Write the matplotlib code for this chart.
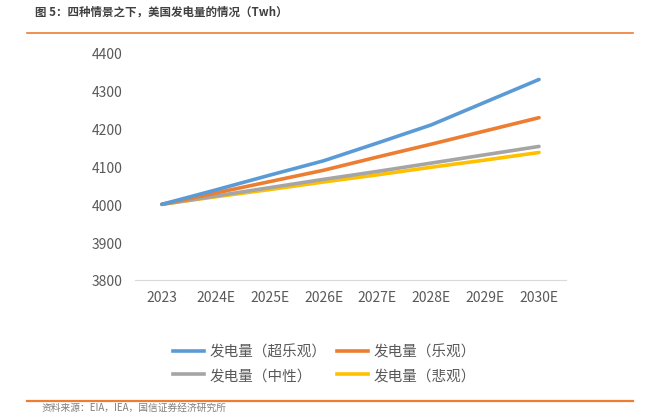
import matplotlib as mpl
import matplotlib.pyplot as plt
from matplotlib.lines import Line2D

mpl.rcParams['font.family'] = ['Noto Sans CJK SC', 'DejaVu Sans']

years = ['2023', '2024E', '2025E', '2026E', '2027E', '2028E', '2029E', '2030E']
super_optimistic = [4000, 4038, 4077, 4115, 4162, 4210, 4270, 4330]
optimistic = [4000, 4030, 4060, 4090, 4125, 4159, 4194, 4229]
neutral = [4000, 4022, 4044, 4066, 4087, 4109, 4131, 4153]
pessimistic = [4000, 4020, 4039, 4059, 4078, 4098, 4117, 4137]
names = ['发电量（超乐观）', '发电量（乐观）', '发电量（中性）', '发电量（悲观）']
colors = ['#5B9BD5', '#ED7D31', '#A5A5A5', '#FFC000']

fig = plt.figure(figsize=(6.53, 4.14), dpi=100)
ax = fig.add_axes([0.2067, 0.3213, 0.66, 0.5483])

x = range(len(years))
series = [super_optimistic, optimistic, neutral, pessimistic]
# draw bottom series first so blue ends on top
for vals, c in reversed(list(zip(series, colors))):
    ax.plot(x, vals, color=c, lw=2.6, solid_capstyle='round')

ax.set_xlim(-0.5, len(years) - 0.5)
ax.set_ylim(3800, 4400)
ax.set_yticks(range(3800, 4401, 100))
ax.set_xticks(list(x))
ax.set_xticklabels(years)
for s in ['top', 'right', 'left']:
    ax.spines[s].set_visible(False)
ax.spines['bottom'].set_color('#D9D9D9')
ax.tick_params(axis='both', length=0, labelsize=10, colors='#595959', pad=7)
ax.tick_params(axis='y', pad=9)

# legend fills by column, so reorder to get rows: 超乐观/乐观, 中性/悲观
order = [0, 2, 1, 3]
handles = [Line2D([], [], color=colors[i], lw=2.6) for i in order]
labels = [names[i] for i in order]
fig.legend(handles, labels, loc='center', bbox_to_anchor=(0.497, 0.12),
           ncol=2, frameon=False, fontsize=10.5, handlelength=2.1,
           columnspacing=0.7, labelspacing=0.65, handletextpad=0.4,
           labelcolor='#595959')

fig.text(0.054, 0.97, '图 5：四种情景之下，美国发电量的情况（Twh）', fontsize=8.3,
         fontweight='bold', color='#404040', va='center')
fig.add_artist(Line2D([0.041, 0.97], [0.918, 0.918], color='#ED7D31', lw=1.2))
fig.add_artist(Line2D([0.041, 0.97], [0.03, 0.03], color='#ED7D31', lw=1.6))
fig.text(0.063, 0.003, '资料来源：EIA，IEA，国信证券经济研究所', fontsize=7,
         color='#7F7F7F', va='bottom')

fig.savefig('out.png', dpi=100)
